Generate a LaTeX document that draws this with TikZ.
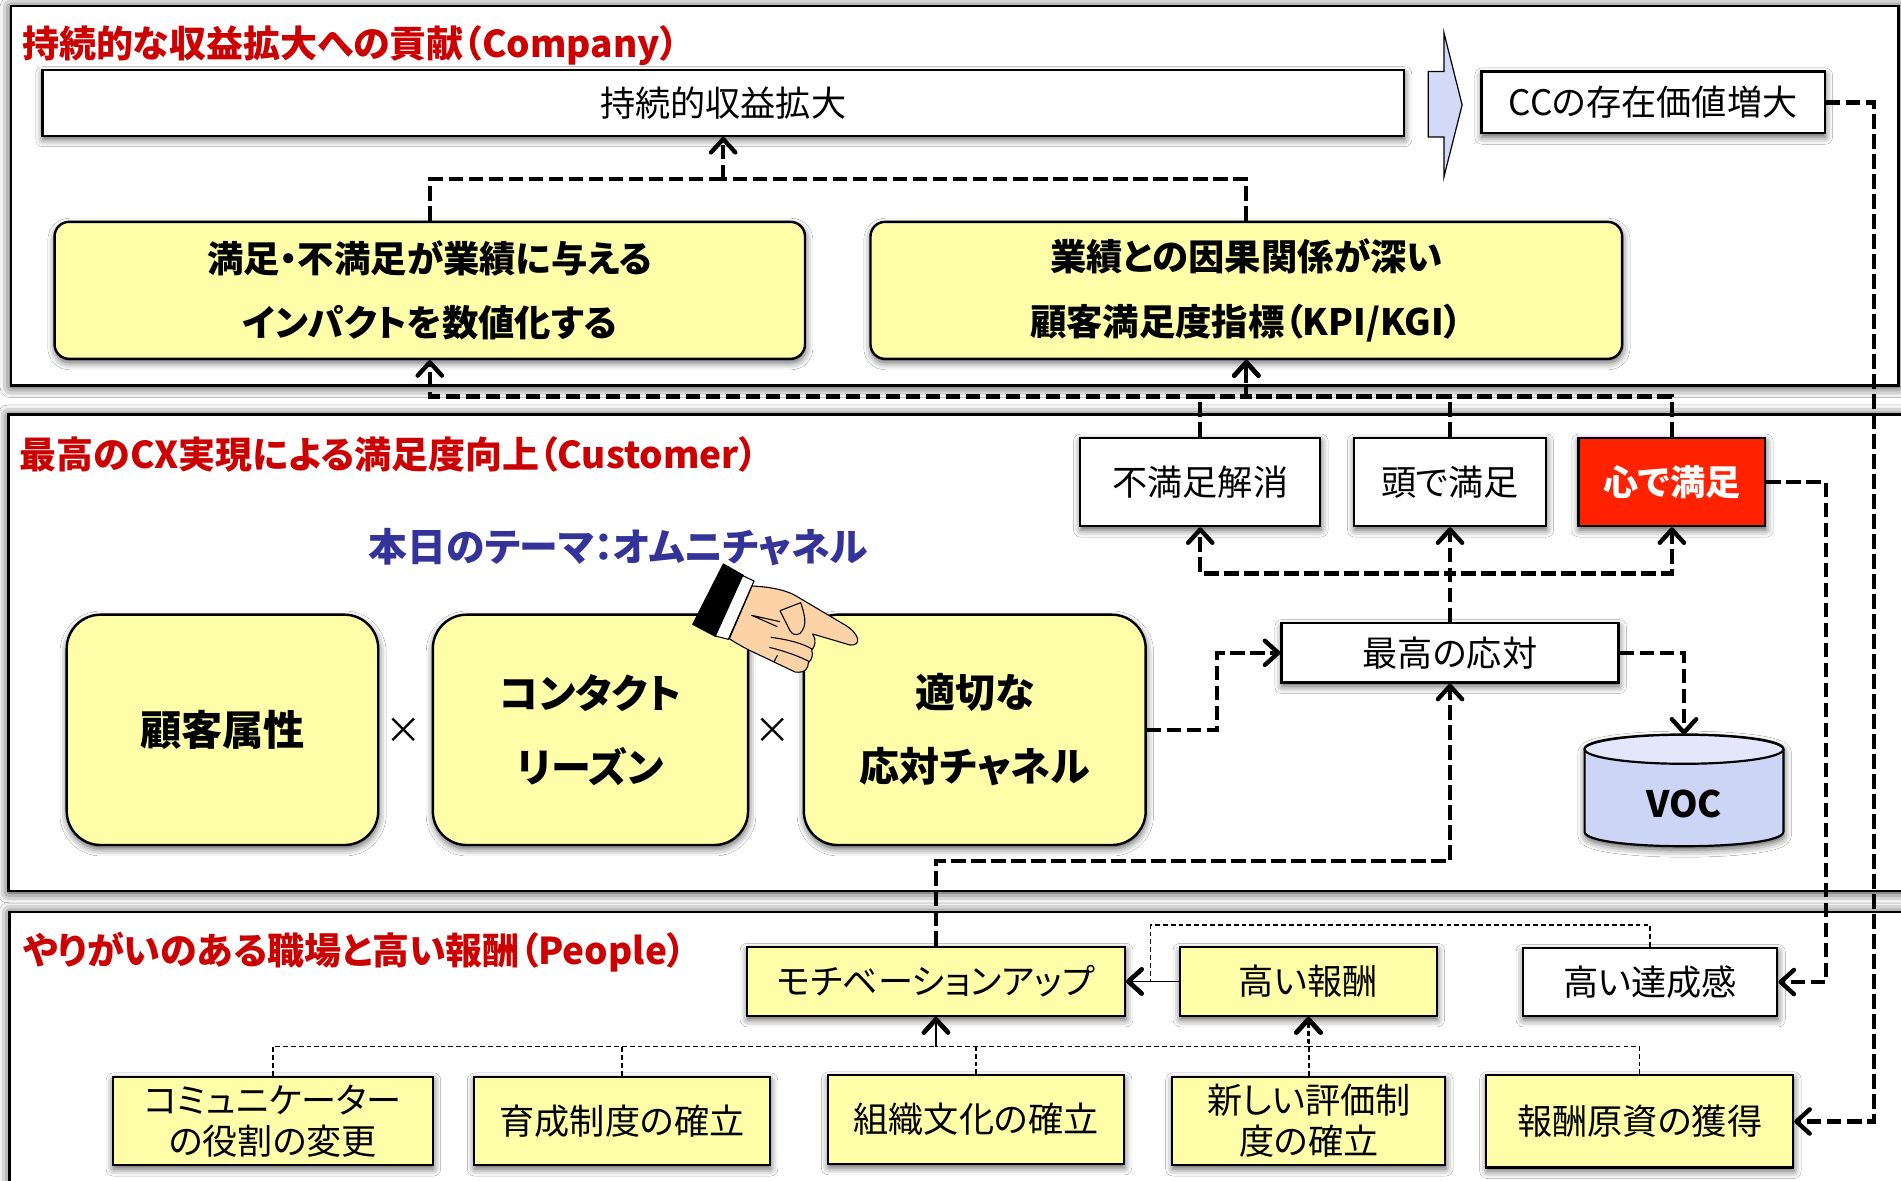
\documentclass[tikz,border=0pt]{standalone}
\usepackage{fontspec}
\setmainfont{Noto Sans CJK JP}[RawFeature=+palt]
\usetikzlibrary{arrows.meta,shadows.blur}

\definecolor{boxyellow}{HTML}{FFFFAA}
\definecolor{titlered}{HTML}{CC0000}
\definecolor{themeblue}{HTML}{333399}
\definecolor{hotred}{HTML}{FF2200}
\definecolor{vocbody}{HTML}{CDD5F7}
\definecolor{voctop}{HTML}{E3E7FB}
\definecolor{arrowblue}{HTML}{D2DAF8}
\definecolor{skin}{HTML}{FBD3A6}

\begin{document}
\begin{tikzpicture}[x=1pt,y=-1pt,
  >={Straight Barb[length=11pt,width=20pt,line width=3.6pt,round]},
  shadowy/.style={blur shadow={shadow xshift=0.5pt,shadow yshift=-3pt,shadow blur radius=6pt,shadow opacity=65}},
  panel/.style={draw=black,line width=2pt,fill=white,blur shadow={shadow xshift=0pt,shadow yshift=-1pt,shadow blur radius=9pt,shadow opacity=90}},
  regtext/.style={font=\fontsize{29pt}{34pt}\selectfont},
  wbox/.style={shadowy,draw=black,line width=1.8pt,fill=white,inner sep=0pt,align=center,regtext},
  ybox/.style={wbox,fill=boxyellow},
  ybig/.style={ybox,rounded corners=12pt,line width=2pt,font=\bfseries\fontsize{30pt}{53pt}\selectfont},
  yround/.style={ybox,rounded corners=28pt,line width=2pt,font=\bfseries\fontsize{33pt}{61pt}\selectfont},
  heading/.style={anchor=west,inner sep=0pt,text=titlered,font=\bfseries\fontsize{30.5pt}{30pt}\selectfont},
  cdash/.style={line width=3.4pt,dash pattern=on 12pt off 4.5pt},
  tdash/.style={line width=1.2pt,dash pattern=on 4pt off 2.5pt},
  tline/.style={line width=1.2pt},
]
\useasboundingbox (0,0) rectangle (1568,974);
\fill[white] (0,0) rectangle (1568,974);
\clip (0,0) rectangle (1568,974);

% three layers
\draw[panel] (9,5) rectangle (1566,318);
\draw[panel] (7,342) rectangle (1585,735);
\draw[panel] (8,752) rectangle (1585,1000);

\node[heading] (h1) at (18,38) {持続的な収益拡大への貢献（Company）};
\node[heading] (h2) at (16,375) {最高のCX実現による満足度向上（Customer）};
\node[heading] (h3) at (19,785) {やりがいのある職場と高い報酬（People）};

% company layer
\node[wbox,minimum width=1123pt,minimum height=54pt] (A) at (596.5,85) {持続的収益拡大};
\node[wbox,minimum width=283pt,minimum height=51pt] (B) at (1363.5,84.5) {CCの存在価値増大};
\filldraw[fill=arrowblue,draw=black,line width=1pt]
  (1178,59) -- (1191,59) -- (1191,27) -- (1206,86.5) -- (1191,146) -- (1191,113) -- (1178,113) -- cycle;
\node[ybig,minimum width=619pt,minimum height=113pt] (C) at (354.5,239.5) {満足・不満足が業績に与える\\インパクトを数値化する};
\node[ybig,minimum width=620pt,minimum height=113pt] (D) at (1028,239.5) {業績との因果関係が深い\\顧客満足度指標（KPI/KGI）};

% customer layer
\node[anchor=west,inner sep=0pt,text=themeblue,font=\bfseries\fontsize{32pt}{32pt}\selectfont] (theme) at (304,451) {本日のテーマ：オムニチャネル};
\node[yround,minimum width=257pt,minimum height=190pt,font=\bfseries\fontsize{34pt}{40pt}\selectfont] (E) at (183.5,602) {顧客属性};
\node[yround,minimum width=260pt,minimum height=190pt] (F) at (487,602) {コンタクト\\リーズン};
\node[yround,minimum width=282pt,minimum height=190pt] (G) at (804,602) {適切な\\応対チャネル};
\node[font=\fontsize{30pt}{30pt}\selectfont] (x1) at (333,603) {×};
\node[font=\fontsize{30pt}{30pt}\selectfont] (x2) at (637,603) {×};

\node[wbox,minimum width=198pt,minimum height=73pt] (K1) at (990,397.5) {不満足解消};
\node[wbox,minimum width=158pt,minimum height=73pt] (K2) at (1196,397.5) {頭で満足};
\node[wbox,fill=hotred,text=white,minimum width=154pt,minimum height=73pt,font=\bfseries\fontsize{29pt}{34pt}\selectfont] (K3) at (1379,397.5) {心で満足};
\node[wbox,minimum width=278pt,minimum height=49pt] (H) at (1196,538.5) {最高の応対};

% VOC store
\filldraw[fill=vocbody,draw=black,line width=1.8pt,shadowy]
  (1307,618) .. controls (1307,602) and (1471,602) .. (1471,618) -- (1471,686)
  .. controls (1471,702) and (1307,702) .. (1307,686) -- cycle;
\filldraw[fill=voctop,draw=black,line width=1.8pt] (1389,618) ellipse [x radius=82, y radius=12];
\node[font=\bfseries\fontsize{30pt}{30pt}\selectfont] (V) at (1389,663) {VOC};
\coordinate (Vtop) at (1389,606);

% people layer
\node[ybox,minimum width=312pt,minimum height=57pt] (M) at (772,809.5) {モチベーションアップ};
\node[ybox,minimum width=212pt,minimum height=57pt] (R) at (1079,809.5) {高い報酬};
\node[wbox,minimum width=210pt,minimum height=56pt] (T) at (1361,810) {高い達成感};
\node[ybox,minimum width=264pt,minimum height=73pt] (Q1) at (225,924.5) {コミュニケーター\\の役割の変更};
\node[ybox,minimum width=244pt,minimum height=73pt] (Q2) at (513,924.5) {育成制度の確立};
\node[ybox,minimum width=244pt,minimum height=73pt] (Q3) at (805,923.5) {組織文化の確立};
\node[ybox,minimum width=225pt,minimum height=73pt] (Q4) at (1079.5,924.5) {新しい評価制\\度の確立};
\node[ybox,minimum width=253pt,minimum height=76pt] (Q5) at (1352.5,925) {報酬原資の獲得};

% bold dashed flows
\coordinate (j1) at (596.5,148);
\draw[cdash] (C.north) |- (j1);
\draw[cdash] (D.north) |- (j1);
\draw[cdash,->] (j1) -- (A.south);

\coordinate (busA) at (0,327);
\draw[cdash,->] (K1.north) -- (K1.north |- busA) -| (C.south);
\draw[cdash,->] (K1.north) -- (K1.north |- busA) -| (D.south);
\draw[cdash,->] (K2.north) -- (K2.north |- busA) -| (D.south);
\draw[cdash,->] (K3.north) -- (K3.north |- busA) -| (D.south);

\coordinate (busB) at (0,473);
\draw[cdash,->] (H.north) -- (H.north |- busB) -| (K1.south);
\draw[cdash,->] (H.north) -- (K2.south);
\draw[cdash,->] (H.north) -- (H.north |- busB) -| (K3.south);

\draw[cdash,->] (G.east) -- ++(58,0) |- (H.west);
\draw[cdash,->] (H.east) -| (Vtop);
\coordinate (busC) at (0,710);
\draw[cdash,->] (M.north) -- (M.north |- busC) -| (H.south);
\draw[cdash,->] (K3.east) -- ++(49,0) |- (T.east);
\draw[cdash,->] (B.east) -- ++(40,0) |- (Q5.east);

% thin flows
\draw[tline,->] (R.west) -- (M.east);
\coordinate (tl) at (949,763);
\draw[tdash,->] (T.north) |- (tl) |- (M.east);
\coordinate (busD) at (0,863);
\draw[tdash,->] (Q1.north) -- (Q1.north |- busD) -| (M.south);
\draw[tdash] (Q2.north) -- (Q2.north |- busD);
\draw[tdash] (Q3.north) -- (Q3.north |- busD);
\draw[tdash,->] (Q4.north |- busD) -| (M.south);
\draw[tdash,->] (Q4.north) -- (Q4.north |- R.south);
\draw[tdash,->] (Q5.north) -- (Q5.north |- busD) -| (R.south);

% pointing hand
\begin{scope}[shift={(560.9,461.9)},scale=0.275,line width=0.9pt,line join=round]
  \filldraw[fill=black] (130,12) -- (190,46) -- (108,230) -- (38,193) -- cycle;
  \filldraw[fill=white] (188,47) -- (222,63) -- (145,238) -- (106,228) -- cycle;
  \filldraw[fill=skin] (216,78) .. controls (260,80) and (320,88) .. (355,112) -- (495,195)
    .. controls (540,222) and (545,258) .. (510,255) -- (398,222)
    .. controls (410,240) and (405,260) .. (395,270)
    .. controls (400,285) and (395,300) .. (385,308)
    .. controls (385,325) and (375,340) .. (345,336) -- (280,305)
    .. controls (240,285) and (190,265) .. (148,236) -- cycle;
  \filldraw[fill=skin] (300,152) -- (362,128) .. controls (372,160) and (385,195) .. (360,220)
    .. controls (348,228) and (335,222) .. (330,212) -- cycle;
  \draw (300,185) -- (215,166) -- (292,200);
  \draw (272,232) .. controls (320,238) and (370,250) .. (397,268);
  \draw (268,262) .. controls (320,275) and (360,290) .. (388,305);
  \draw (292,286) -- (282,305);
\end{scope}
\end{tikzpicture}
\end{document}
